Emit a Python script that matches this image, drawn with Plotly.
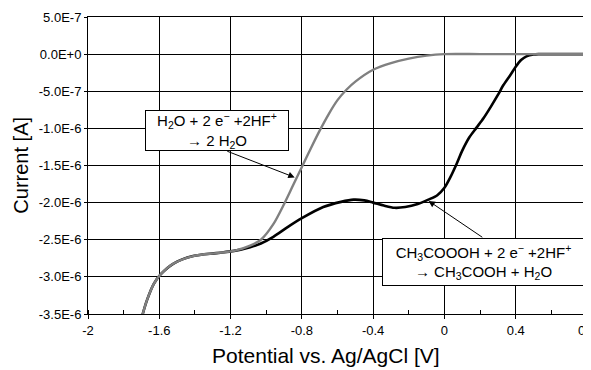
import plotly.graph_objects as go

# Potential (V vs Ag/AgCl) and current (µA)
water_x = [-1.70, -1.67, -1.63, -1.59, -1.52, -1.41, -1.28, -1.18, -1.09, -1.03, -0.96,
           -0.90, -0.85, -0.80, -0.75, -0.70, -0.65, -0.60, -0.55, -0.50, -0.40,
           -0.30, -0.20, -0.10, 0.00, 0.20, 0.40, 0.60, 0.80]
water_y = [-3.56, -3.32, -3.09, -2.96, -2.82, -2.72, -2.68, -2.65, -2.58, -2.50, -2.29,
           -2.02, -1.77, -1.52, -1.27, -1.03, -0.81, -0.62, -0.48, -0.37, -0.21,
           -0.12, -0.06, -0.02, 0.00, 0.00, 0.00, 0.00, 0.00]

peracid_x = [-1.70, -1.67, -1.63, -1.59, -1.52, -1.41, -1.28, -1.18, -1.09, -1.03, -0.96,
             -0.88, -0.80, -0.68, -0.58, -0.51, -0.45, -0.40, -0.34, -0.28, -0.22, -0.15,
             -0.09, -0.04, 0.00, 0.035, 0.07, 0.10, 0.14, 0.18, 0.22, 0.26, 0.30, 0.33,
             0.37, 0.40, 0.43, 0.46, 0.50, 0.53, 0.60, 0.80]
peracid_y = [-3.56, -3.32, -3.09, -2.96, -2.82, -2.72, -2.68, -2.65, -2.60, -2.55, -2.46,
             -2.33, -2.21, -2.06, -1.99, -1.96, -1.97, -2.00, -2.04, -2.07, -2.06, -2.02,
             -1.96, -1.90, -1.80, -1.65, -1.47, -1.30, -1.12, -0.99, -0.86, -0.71, -0.55,
             -0.42, -0.28, -0.17, -0.08, -0.03, -0.005, 0.00, 0.00, 0.00]

x_range = [-2, 0.8]
y_range = [-3.5e-6, 5e-7]
x_tickvals = [-2, -1.6, -1.2, -0.8, -0.4, 0, 0.4, 0.8]
x_ticktext = ["-2", "-1.6", "-1.2", "-0.8", "-0.4", "0", "0.4", "0.8"]
y_tickvals = [5e-7, 0, -5e-7, -1e-6, -1.5e-6, -2e-6, -2.5e-6, -3e-6, -3.5e-6]
y_ticktext = ["5.0E-7", "0.0E+0", "-5.0E-7", "-1.0E-6", "-1.5E-6", "-2.0E-6",
              "-2.5E-6", "-3.0E-6", "-3.5E-6"]

label_water = "H<sub>2</sub>O + 2 e<sup>−</sup> +2HF<sup>+</sup><br>→ 2 H<sub>2</sub>O"
label_peracid = ("CH<sub>3</sub>COOOH + 2 e<sup>−</sup> +2HF<sup>+</sup><br>"
                 "→ CH<sub>3</sub>COOH + H<sub>2</sub>O")
x_title = "Potential vs. Ag/AgCl [V]"
y_title = "Current [A]"

FONT = "Liberation Sans"

fig = go.Figure()

fig.add_trace(go.Scatter(x=peracid_x, y=[v * 1e-6 for v in peracid_y], mode="lines",
                         line=dict(color="black", width=2.6, shape="spline", smoothing=0.8),
                         showlegend=False))
fig.add_trace(go.Scatter(x=water_x, y=[v * 1e-6 for v in water_y], mode="lines",
                         line=dict(color="#808080", width=2.4, shape="spline", smoothing=0.8),
                         showlegend=False))

# text boxes
fig.add_annotation(x=-1.2765, y=-1.024e-6, xref="x", yref="y", text=label_water,
                   showarrow=False, bgcolor="white", bordercolor="black", borderwidth=1,
                   borderpad=1, width=140, height=37, align="center",
                   font=dict(family=FONT, size=15, color="black"))
fig.add_annotation(x=0.221, y=-2.803e-6, xref="x", yref="y", text=label_peracid,
                   showarrow=False, bgcolor="white", bordercolor="black", borderwidth=1,
                   borderpad=1, width=199, height=44, align="center",
                   font=dict(family=FONT, size=15, color="black"))
# arrows
fig.add_annotation(x=-0.84, y=-1.66e-6, ax=-1.227, ay=-1.30e-6, xref="x", yref="y",
                   axref="x", ayref="y", text="", showarrow=True, arrowhead=2,
                   arrowsize=1.3, arrowwidth=1, arrowcolor="black")
fig.add_annotation(x=-0.089, y=-1.977e-6, ax=0.221, ay=-2.48e-6, xref="x", yref="y",
                   axref="x", ayref="y", text="", showarrow=True, arrowhead=2,
                   arrowsize=1.3, arrowwidth=1, arrowcolor="black")
# axis titles
fig.add_annotation(x=0.477, y=-0.141, xref="paper", yref="paper", text=x_title,
                   showarrow=False, xanchor="center", yanchor="middle",
                   font=dict(family=FONT, size=21, color="black"))
fig.add_annotation(x=-0.136, y=0.5, xref="paper", yref="paper", text=y_title,
                   showarrow=False, xanchor="center", yanchor="middle", textangle=-90,
                   font=dict(family=FONT, size=20, color="black"))

# the page body has an 8px margin, so the figure is sized to fill the rest of the window
fig.update_layout(
    template="none",
    width=583, height=362,
    margin=dict(l=80, r=4, t=9, b=56),
    paper_bgcolor="white", plot_bgcolor="white",
    font=dict(family=FONT, color="black"),
    xaxis=dict(range=x_range, tickmode="array", tickvals=x_tickvals, ticktext=x_ticktext,
               showgrid=True, gridcolor="black", gridwidth=1, zeroline=False,
               showline=True, linecolor="black", linewidth=1, mirror=True,
               ticks="outside", ticklen=4, tickcolor="black", ticklabeloverflow="allow",
               tickfont=dict(size=13, family=FONT, color="black"),
               minor=dict(tickmode="linear", tick0=-2, dtick=0.2, ticks="inside",
                          ticklen=4, tickcolor="black", showgrid=False)),
    yaxis=dict(range=y_range, tickmode="array", tickvals=y_tickvals,
               ticktext=y_ticktext, showgrid=True, gridcolor="black", gridwidth=1,
               zeroline=False, showline=True, linecolor="black", linewidth=1, mirror=True,
               ticks="outside", ticklen=3, tickcolor="black",
               tickfont=dict(size=13, family=FONT, color="black")),
)

fig.write_html("out.html")
